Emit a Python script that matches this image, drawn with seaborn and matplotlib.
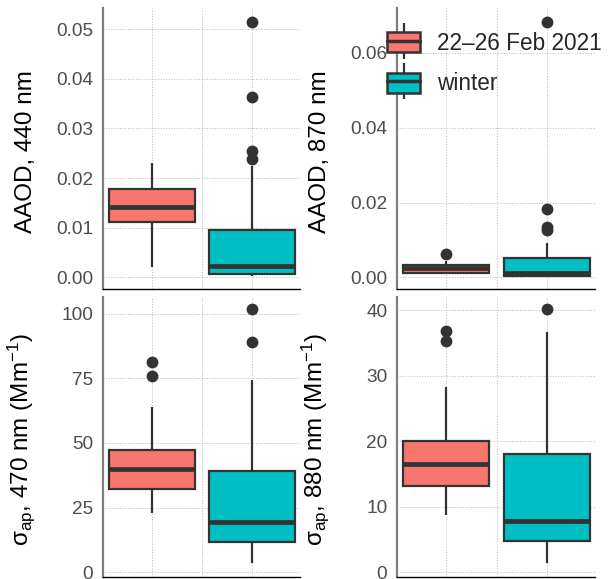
import matplotlib
matplotlib.use("Agg")
import matplotlib.pyplot as plt
import seaborn as sns
import pandas as pd
from matplotlib.lines import Line2D
from matplotlib.patches import Patch
from matplotlib.legend_handler import HandlerTuple

# ---------------- data ----------------
periods = ["22\u201326 Feb 2021", "winter"]
colors = ["#F8766D", "#00BFC4"]

feb_aaod440 = [0.0022, 0.0112, 0.0141, 0.0179, 0.0231]
win_aaod440 = [0.0002, 0.0003, 0.0004, 0.0005, 0.0005, 0.0006, 0.0009, 0.0012,
               0.0016, 0.0020, 0.0023, 0.0035, 0.0050, 0.0065, 0.0080, 0.0096,
               0.0224, 0.0239, 0.0255, 0.0364, 0.0515]

feb_aaod870 = [0.0010, 0.0011, 0.0013, 0.0019, 0.0025, 0.0029, 0.0032, 0.0043, 0.0062]
win_aaod870 = [0.0001, 0.0002, 0.0003, 0.0003, 0.0004, 0.0005, 0.0006, 0.0008,
               0.0009, 0.0010, 0.0012, 0.0018, 0.0025, 0.0035, 0.0045, 0.0053,
               0.0093, 0.0128, 0.0134, 0.0184, 0.0683]

feb_sap470 = [22.8, 27.0, 30.0, 32.2, 35.0, 37.5, 39.8, 42.0, 45.0, 47.3, 63.7, 75.8, 81.2]
win_sap470 = [3.5, 7.0, 10.0, 11.8, 14.0, 17.0, 19.5, 25.0, 32.0, 39.2, 74.5, 89.0, 101.7]

feb_sap880 = [8.8, 11.0, 12.5, 13.2, 14.5, 15.5, 16.5, 17.5, 19.0, 20.0, 28.3, 35.3, 36.8]
win_sap880 = [1.4, 3.0, 4.7, 6.5, 7.8, 12.0, 18.1, 36.6, 40.1]

ylabels = ["AAOD, 440 nm", "AAOD, 870 nm",
           "σ$_{ap}$, 470 nm (Mm$^{\u22121}$)", "σ$_{ap}$, 880 nm (Mm$^{\u22121}$)"]
yticks = [[0.00, 0.01, 0.02, 0.03, 0.04, 0.05],
          [0.00, 0.02, 0.04, 0.06],
          [0, 25, 50, 75, 100],
          [0, 10, 20, 30, 40]]
yticklabels = [["0.00", "0.01", "0.02", "0.03", "0.04", "0.05"],
               ["0.00", "0.02", "0.04", "0.06"],
               ["0", "25", "50", "75", "100"],
               ["0", "10", "20", "30", "40"]]
ylims = [(-0.00232, 0.05423), (-0.00308, 0.0720), (-1.8, 106.4), (-0.72, 42.0)]

panels = [(feb_aaod440, win_aaod440), (feb_aaod870, win_aaod870),
          (feb_sap470, win_sap470), (feb_sap880, win_sap880)]

# ---------------- style ----------------
sns.set_style("white")
plt.rcParams["font.family"] = ["Liberation Sans", "DejaVu Sans"]
plt.rcParams["mathtext.fontset"] = "custom"
plt.rcParams["mathtext.rm"] = "Liberation Sans"
plt.rcParams["mathtext.it"] = "Liberation Sans"
plt.rcParams["mathtext.default"] = "regular"

W, H = 608, 579
fig = plt.figure(figsize=(W / 100, H / 100), dpi=100)

def px_axes(l, t, r, b):
    return fig.add_axes([l / W, 1 - b / H, (r - l) / W, (b - t) / H])

rects = [(103, 8, 300, 289), (397, 8, 595, 289),
         (103, 297, 300, 577), (397, 297, 595, 577)]

edge = "#333333"
for i, (rect, (feb, win)) in enumerate(zip(rects, panels)):
    ax = px_axes(*rect)
    df = pd.DataFrame({
        "period": [periods[0]] * len(feb) + [periods[1]] * len(win),
        "value": list(feb) + list(win),
    })
    sns.boxplot(data=df, x="period", y="value", hue="period", order=periods,
                hue_order=periods, palette=colors, saturation=1, width=0.86,
                linewidth=1.6, linecolor=edge, legend=False, ax=ax,
                showcaps=False,
                medianprops=dict(linewidth=3.4, color=edge),
                flierprops=dict(marker="o", markerfacecolor=edge,
                                markeredgecolor=edge, markersize=7.5))
    ax.set_xlim(-0.49, 1.48)
    ax.set_ylim(*ylims[i])
    ax.set_yticks(yticks[i])
    ax.set_yticklabels(yticklabels[i])
    ax.set_xticks([0, 1])
    ax.set_xticks([0.5], minor=True)
    ax.set_xticklabels([])
    ax.set_xlabel("")
    ax.set_ylabel(ylabels[i], fontsize=17.5, color="black")
    ax.yaxis.set_label_coords(-0.335, 0.49)
    ax.tick_params(axis="y", length=4, width=0.8, color="#333333", pad=3,
                   labelsize=13.7, labelcolor="#4D4D4D")
    ax.tick_params(axis="x", which="major", length=4, width=0.9, color="#333333")
    ax.tick_params(axis="x", which="minor", length=0)
    ax.grid(True, which="both", linestyle=(0, (1.2, 1.6)), linewidth=0.7,
            color="#C0C0C0")
    ax.set_axisbelow(True)
    for s in ["top", "right"]:
        ax.spines[s].set_visible(False)
    ax.spines["left"].set_color("#7F7F7F")
    ax.spines["left"].set_linewidth(1.6)
    ax.spines["bottom"].set_color("black")
    ax.spines["bottom"].set_linewidth(1.0)

# ---------------- legend ----------------
handles = []
for c in colors:
    whisk = Line2D([], [], marker="|", markersize=26, markeredgewidth=1.6,
                   color=edge, linestyle="none")
    box = Patch(facecolor=c, edgecolor=edge, linewidth=1.8)
    med = Line2D([], [], color=edge, linewidth=2.5)
    handles.append((whisk, box, med))

fig.legend(handles, periods, loc="upper left",
           bbox_to_anchor=(387 / W, 1 - 32 / H), bbox_transform=fig.transFigure,
           handler_map={tuple: HandlerTuple(ndivide=1, pad=0)},
           frameon=False, fontsize=16.3, handlelength=1.46, handleheight=1.0,
           handletextpad=0.75, labelspacing=0.77, borderpad=0, borderaxespad=0)

fig.savefig("out.png", dpi=100)
